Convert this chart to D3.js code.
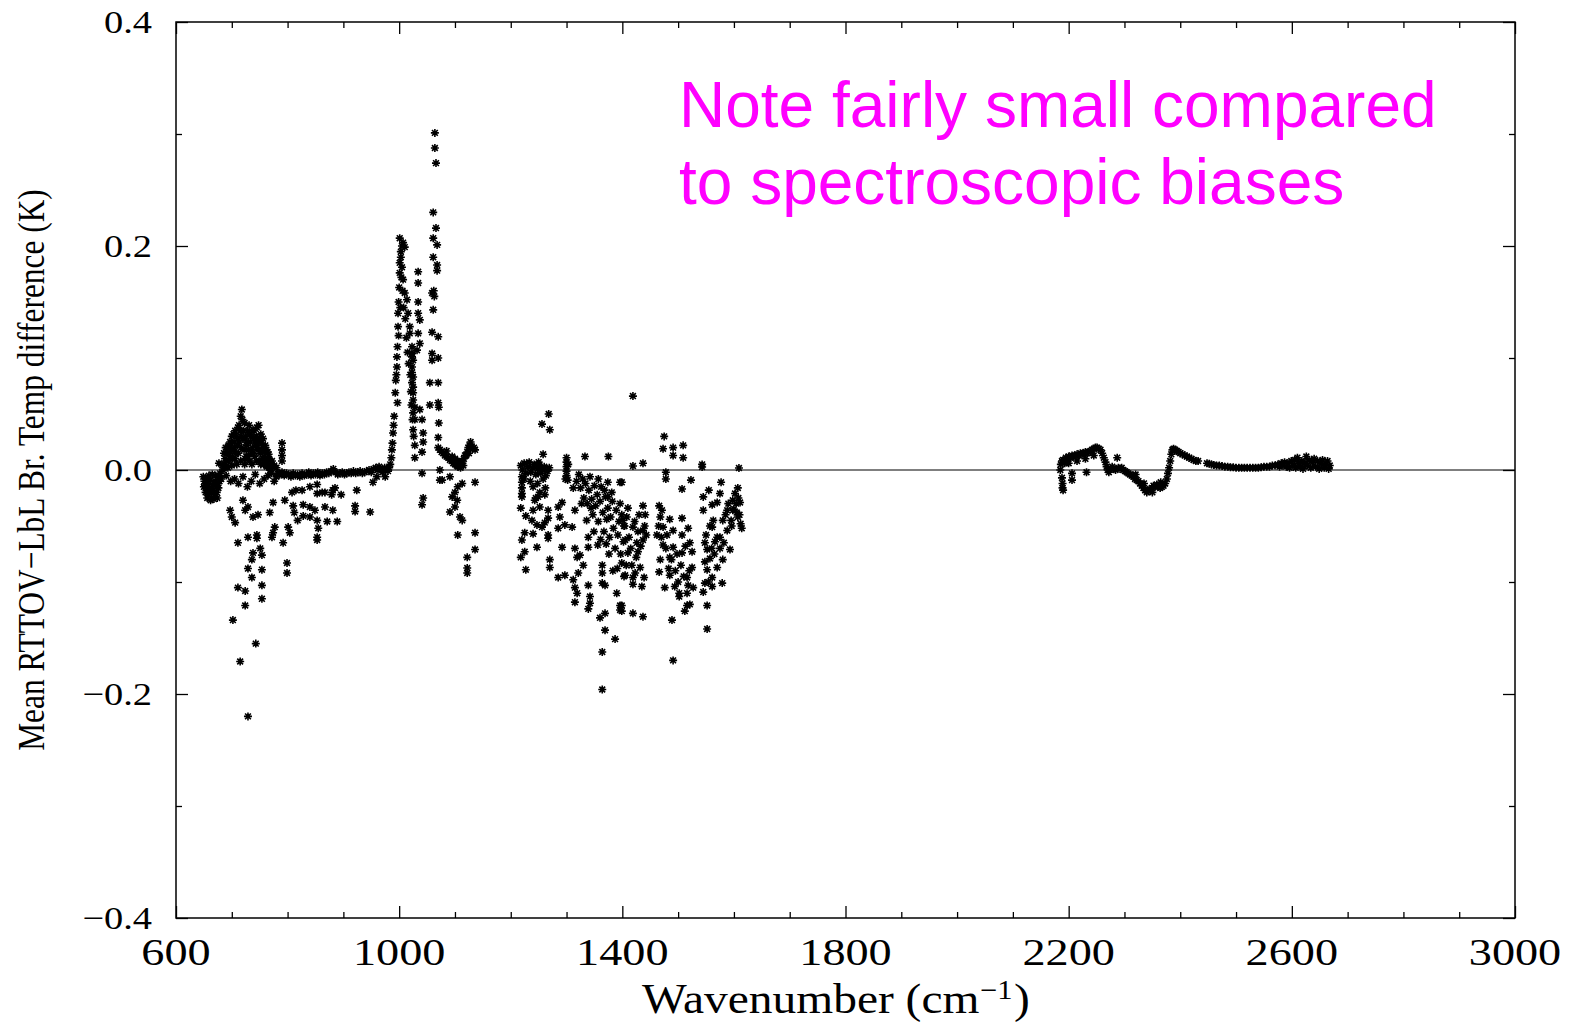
<!DOCTYPE html>
<html><head><meta charset="utf-8">
<script src="https://cdn.jsdelivr.net/npm/d3@7"></script>
<style>html,body{margin:0;padding:0;background:#fff;}svg{display:block}</style>
</head><body>
<svg id="chart" width="1571" height="1023"></svg>
<script>
// ---------- data ----------
const xTicks = [600, 1000, 1400, 1800, 2200, 2600, 3000];
const xTickLabels = ["600", "1000", "1400", "1800", "2200", "2600", "3000"];
const yTicks = [-0.4, -0.2, 0.0, 0.2, 0.4];
const yTickLabels = ["\u22120.4", "\u22120.2", "0.0", "0.2", "0.4"];
const xLabel = "Wavenumber (cm";
const yLabel = "Mean RTTOV\u2212LbL Br. Temp difference (K)";
const noteLines = ["Note fairly small compared", "to spectroscopic biases"];

// [wavenumber (cm-1), mean RTTOV-LbL difference (K)]
const co2Band = [
[649,-0.006],[651,-0.010],[652,-0.014],[654,-0.008],[655,-0.018],[657,-0.012],[658,-0.022],[660,-0.016],[661,-0.009],[663,-0.020],[664,-0.025],[666,-0.013],[667,-0.018],[669,-0.022],[670,-0.010],[672,-0.015],[673,-0.020],[675,-0.012],[677,-0.006],[679,-0.003],[677,0.006],
[650,-0.015],[653,-0.020],[656,-0.025],[659,-0.005],[662,-0.027],[665,-0.004],[668,-0.026],[671,-0.005],[674,-0.025],[676,-0.016],[678,-0.010],[681,-0.008],[683,0.004],
[684,0.000],[686,0.005],[688,0.010],[690,0.003],[692,0.015],[694,0.008],[696,0.020],[698,0.012],[700,0.004],[702,0.018],[704,0.025],[706,0.010],[708,0.030],[710,0.022],[712,0.015],[713,0.040],[715,0.035],[716,0.048],[718,0.054],[719,0.045],[720,0.028],[722,0.018],[724,0.010],[725,0.030],[727,0.022],[729,0.012],[731,0.040],[733,0.025],[735,0.015],[737,0.020],[739,0.028],[741,0.012],[743,0.022],[745,0.038],[747,0.018],[749,0.008],[751,0.015],[753,0.024],[755,0.010],[757,0.005],[759,0.016],[761,0.008],[763,0.003],[765,0.010],[768,0.002],[770,0.005],
[689,0.020],[691,0.008],[693,0.002],[695,0.015],[697,0.025],[699,0.018],[701,0.010],[703,0.032],[705,0.020],[707,0.015],[709,0.005],[711,0.038],[714,0.025],[716,0.008],[717,0.030],[721,0.035],[723,0.005],[726,0.025],[728,0.035],[730,0.018],[732,0.008],[734,0.030],[736,0.005],[738,0.015],[740,0.035],[742,0.025],[744,0.008],[746,0.020],[748,0.040],[750,0.028],[752,0.005],[754,0.018],[756,0.028],[758,0.012],[760,0.022],[762,0.004],[764,0.016],[767,0.010],[769,0.000],[771,-0.003],[773,0.003],
[686,0.015],[694,0.022],[700,0.030],[706,0.035],[711,0.028],[717,0.020],[723,0.042],[726,0.012],[732,0.032],[738,0.036],[744,0.030],[748,0.026],[752,0.032],[756,0.020],[762,0.018],[766,0.014],[772,0.008],[776,0.004],[780,0.002],[780,-0.006],[785,-0.004],[776,-0.010],
[690,-0.005],[698,-0.010],[705,-0.008],[712,-0.012],[720,-0.006],[728,-0.015],[735,-0.010],[742,-0.004],[750,-0.012],[758,-0.008],[765,-0.005],
[790,0.024],[790,0.018],[790,0.013],[790,0.008],
[702,-0.134],[715,-0.171],[729,-0.220],[743,-0.155],[724,-0.121],[711,-0.105],[724,-0.108],[754,-0.115],[754,-0.103],[736,-0.096],[729,-0.088],[754,-0.089],[736,-0.080],[754,-0.076],[738,-0.074],[751,-0.070],[711,-0.065],[729,-0.060],[745,-0.058],[745,-0.061],[706,-0.047],[697,-0.036],[700,-0.042],[799,-0.083],[799,-0.092],[792,-0.065],[804,-0.056],[801,-0.051],[777,-0.051],[774,-0.056],[772,-0.060],[768,-0.038],[774,-0.029],[795,-0.027],[738,-0.042],[747,-0.040],[720,-0.027],[729,-0.033],[724,-0.036]
];

const windowBand = [
[782,-0.003],[786,-0.004],[790,-0.002],[794,-0.005],[798,-0.003],[802,-0.004],[806,-0.006],[810,-0.003],[814,-0.005],[818,-0.004],[822,-0.006],[826,-0.003],[830,-0.005],[834,-0.004],[838,-0.002],[842,-0.005],[846,-0.003],[850,-0.004],[854,-0.002],[858,-0.005],[862,-0.003],[866,-0.004],[870,-0.002],[874,-0.003],[878,-0.001],[882,0.001],[886,-0.002],[890,-0.004],[894,-0.003],[898,-0.002],[902,-0.004],[906,-0.003],[910,-0.002],[914,-0.003],[918,-0.001],[922,-0.003],[926,-0.002],[930,-0.001],[934,-0.003],[938,-0.002],[942,-0.001],[946,0.000],[950,-0.002],[954,0.001],[958,0.002],[962,0.000],[966,0.001],[970,-0.002],[974,0.002],[978,0.001],[960,-0.006],[964,0.003],
[826,-0.018],[853,-0.013],[853,-0.021],[881,-0.018],[867,-0.020],[879,-0.022],[828,-0.031],[840,-0.033],[849,-0.036],[867,-0.033],[881,-0.036],[828,-0.041],[840,-0.042],[853,-0.045],[855,-0.052],[853,-0.060],[853,-0.0625],[871,-0.046],[889,-0.046],[924,-0.018],[921,-0.032],[921,-0.037],[948,-0.0375],[953,-0.011],[975,-0.006],[840,-0.015],[862,-0.020],[885,-0.016],[896,-0.022],[808,-0.020],[815,-0.018],[810,-0.032],[818,-0.045],[812,-0.038]
];

const ozoneBand = [
[980,-0.001],[982,0.002],[984,0.005],[986,0.011],[987,0.018],[988,0.024],[989,0.033],[990,0.040],[991,0.048],[993,0.069],[994,0.080],[996,0.092],[996,0.101],[997,0.110],[998,0.128],[998,0.140],[999,0.150],[1000,0.163],[1001,0.176],[1001,0.185],[1003,0.190],[1001,0.207],[1007,0.203],[1010,0.199],[1005,0.181],[1007,0.170],[1010,0.158],[1014,0.152],[1016,0.140],[1019,0.128],[1019,0.122],[1023,0.110],[1023,0.101],[1023,0.092],[1025,0.083],[1025,0.074],[1025,0.0625],[1025,0.051],[1028,0.045],[1025,0.036],[1028,0.022],[1028,0.011],[1003,0.195],[1005,0.200],[1004,0.172],[1006,0.160],[1008,0.145],[1011,0.135],[1013,0.118],[1015,0.105],[1017,0.095],[1020,0.085],[1021,0.070],[1022,0.058],[1024,0.045],[1026,0.030],[995,0.085],[997,0.060],[999,0.120],[1002,0.145],
[1034,0.177],[1034,0.167],[1034,0.150],[1034,0.140],[1037,0.134],[1034,0.122],[1037,0.113],[1032,0.107],[1023,0.104],[1025,0.098],[1023,0.087],[1023,0.078],[1025,0.069],[1037,0.054],[1041,0.045],[1043,0.033],[1043,0.025],[1041,0.016],[1041,-0.003],[1043,-0.025],[1041,-0.031],[1028,0.056],
[1064,0.301],[1064,0.2875],[1066,0.274],[1061,0.230],[1066,0.216],[1061,0.207],[1068,0.201],[1061,0.190],[1068,0.183],[1068,0.178],[1059,0.158],[1062,0.160],[1063,0.155],[1061,0.143],[1059,0.123],[1070,0.119],[1059,0.104],[1059,0.098],[1070,0.100],[1055,0.078],[1070,0.078],[1055,0.058],[1070,0.060],[1071,0.056],[1071,0.042],[1070,0.029],[1073,0.000],[1073,-0.009],
[1070,0.020],[1073,0.018],[1076,0.016],[1079,0.015],[1082,0.013],[1085,0.012],[1088,0.011],[1091,0.009],[1094,0.008],[1097,0.006],[1100,0.005],[1103,0.004],[1105,0.003],[1107,0.005],[1110,0.007],[1113,0.008],[1116,0.010],[1118,0.013],[1120,0.013],[1122,0.016],[1124,0.020],[1126,0.022],[1128,0.025],[1130,0.021],[1132,0.019],[1134,0.020],[1136,0.018],[1085,0.017],[1095,0.012],[1105,0.008],[1110,0.002],[1115,0.004],[1125,0.015],[1100,0.010],
[1077,-0.009],[1091,-0.006],[1095,-0.024],[1100,-0.020],[1105,-0.015],[1104,-0.027],[1091,-0.0375],[1100,-0.033],[1109,-0.042],[1113,-0.045],[1105,-0.058],[1122,-0.078],[1122,-0.0875],[1122,-0.092],[1136,-0.056],[1136,-0.071],[1136,-0.011],[1113,-0.012]
];

const waterBand = [
[1268,0.050],[1256,0.041],[1270,0.036],[1258,0.014],[1333,0.012],[1250,0.007],[1419,0.066],[1375,0.012],
[1218,0.004],[1221,0.000],[1224,0.006],[1227,-0.003],[1230,0.003],[1233,0.007],[1236,-0.002],[1239,0.002],[1242,0.005],[1245,-0.004],[1248,0.001],[1251,0.004],[1254,-0.003],[1257,0.000],[1260,0.003],[1263,-0.005],[1266,-0.001],[1269,0.002],[1224,-0.008],[1235,-0.010],[1248,-0.012],[1258,-0.008],[1240,-0.015],[1262,-0.016],[1252,-0.020],[1245,-0.025],
[1220,-0.006],[1220,-0.011],[1220,-0.016],[1220,-0.021],[1220,-0.024],
[1300,0.011],[1300,0.007],[1300,0.003],[1300,-0.001],[1300,-0.005],[1302,-0.009],[1298,-0.008],[1303,0.005],
[1218,-0.034],[1227,-0.041],[1240,-0.036],[1238,-0.045],[1247,-0.049],[1243,-0.027],[1249,-0.024],[1261,-0.022],[1252,-0.033],[1267,-0.036],[1267,-0.043],[1261,-0.047],[1256,-0.051],[1220,-0.0625],[1225,-0.056],[1240,-0.057],[1218,-0.078],[1225,-0.073],[1247,-0.069],[1267,-0.058],[1267,-0.061],[1227,-0.089],[1270,-0.080],[1270,-0.087],[1285,-0.033],[1288,-0.042],[1285,-0.052],[1292,-0.069],[1285,-0.096],[1297,-0.094],[1292,-0.029],[1297,-0.049],[1310,-0.051],[1315,-0.036],[1312,-0.016],[1315,-0.070],[1319,-0.078],[1312,-0.098],[1315,-0.105],[1319,-0.110],[1315,-0.118],[1324,-0.076],[1330,-0.085],[1321,-0.092],[1339,-0.060],[1339,-0.103],[1342,-0.113],[1342,-0.119],[1339,-0.124],[1364,-0.092],[1364,-0.101],[1369,-0.103],[1360,-0.132],[1369,-0.128],[1369,-0.143],[1387,-0.151],[1364,-0.1625],[1364,-0.196],[1390,-0.110],[1396,-0.121],[1396,-0.125],[1374,-0.011],[1396,-0.011],[1374,-0.024],[1339,-0.069],[1356,-0.067],[1364,-0.085],
[1318,-0.010],[1322,-0.004],[1325,-0.016],[1329,-0.008],[1331,-0.025],[1334,-0.012],[1337,-0.030],[1340,-0.018],[1342,-0.006],[1345,-0.026],[1347,-0.040],[1350,-0.014],[1352,-0.032],[1355,-0.022],[1357,-0.046],[1360,-0.028],[1362,-0.015],[1365,-0.038],[1367,-0.055],[1370,-0.024],[1372,-0.044],[1374,-0.034],[1377,-0.060],[1379,-0.042],[1382,-0.028],[1384,-0.052],[1387,-0.070],[1389,-0.036],[1392,-0.058],[1394,-0.046],[1397,-0.075],[1399,-0.040],[1402,-0.064],[1404,-0.050],[1336,-0.045],[1349,-0.055],[1361,-0.062],[1376,-0.075],[1391,-0.088],[1403,-0.095],[1383,-0.090],[1396,-0.030],[1327,-0.030],[1357,-0.008],[1368,-0.018],[1381,-0.020],[1344,-0.034],[1371,-0.066],
[1475,0.030],[1473,0.019],[1491,0.020],[1509,0.022],[1491,0.013],[1509,0.011],[1419,0.0036],[1437,0.006],[1543,0.005],[1543,0.0027],[1609,0.0018],[1478,-0.002],[1478,-0.008],[1523,-0.009],[1507,-0.017],[1577,-0.011],[1399,-0.011],
[1410,-0.034],[1437,-0.032],[1441,-0.040],[1401,-0.045],[1419,-0.051],[1437,-0.054],[1405,-0.0625],[1426,-0.065],[1437,-0.0625],[1410,-0.074],[1428,-0.073],[1399,-0.083],[1417,-0.085],[1432,-0.087],[1405,-0.094],[1419,-0.096],[1439,-0.096],[1419,-0.102],[1435,-0.104],[1399,-0.121],[1399,-0.126],[1419,-0.128],[1437,-0.131],
[1466,-0.032],[1471,-0.036],[1468,-0.042],[1485,-0.044],[1473,-0.051],[1462,-0.058],[1491,-0.054],[1507,-0.058],[1473,-0.067],[1491,-0.069],[1468,-0.080],[1485,-0.078],[1507,-0.074],[1521,-0.065],[1518,-0.052],[1507,-0.043],[1466,-0.091],[1485,-0.094],[1500,-0.100],[1516,-0.096],[1518,-0.103],[1476,-0.105],[1494,-0.104],[1502,-0.110],[1502,-0.113],[1516,-0.110],[1527,-0.105],[1516,-0.121],[1512,-0.126],[1521,-0.120],[1489,-0.134],[1491,-0.170],[1525,-0.087],[1525,-0.073],
[1545,-0.036],[1545,-0.024],[1555,-0.018],[1570,-0.029],[1561,-0.031],[1575,-0.021],[1563,-0.045],[1561,-0.051],[1580,-0.045],[1588,-0.036],[1598,-0.027],[1607,-0.016],[1602,-0.021],[1611,-0.029],[1598,-0.036],[1607,-0.042],[1614,-0.052],[1588,-0.054],[1575,-0.060],[1566,-0.064],[1548,-0.065],[1552,-0.071],[1557,-0.079],[1548,-0.082],[1552,-0.089],[1570,-0.087],[1561,-0.096],[1548,-0.101],[1554,-0.100],[1579,-0.101],[1545,-0.109],[1561,-0.104],[1552,-0.121],[1552,-0.142],[1593,-0.071],[1580,-0.080],
[1403,-0.050],[1408,-0.042],[1412,-0.060],[1415,-0.070],[1422,-0.046],[1425,-0.078],[1428,-0.055],[1430,-0.040],[1433,-0.068],[1440,-0.050],[1443,-0.058],[1407,-0.085],[1423,-0.092],
[1465,-0.050],[1470,-0.060],[1478,-0.070],[1480,-0.058],[1483,-0.088],[1488,-0.080],[1495,-0.090],[1498,-0.075],[1505,-0.085],[1510,-0.095],[1513,-0.068],[1520,-0.090],
[1585,-0.040],[1590,-0.030],[1595,-0.045],[1600,-0.035],[1604,-0.030],[1608,-0.025],[1610,-0.040],[1612,-0.048],[1596,-0.050],[1605,-0.038],[1560,-0.070],[1565,-0.075],[1570,-0.060],[1575,-0.070],[1582,-0.065],[1550,-0.058],[1557,-0.050]
];

const swBand = [
[2185,0.000],[2186,0.005],[2188,0.008],[2190,0.009],[2193,0.006],[2195,0.011],[2198,0.010],[2200,0.012],[2203,0.011],[2206,0.013],[2209,0.012],[2212,0.013],[2215,0.014],[2218,0.013],[2221,0.015],[2224,0.014],[2227,0.015],[2230,0.016],[2233,0.015],[2236,0.016],[2239,0.017],[2242,0.018],[2245,0.019],[2248,0.020],[2251,0.020],[2254,0.019],[2257,0.018],[2260,0.015],[2263,0.011],[2266,0.007],[2268,0.003],[2270,0.000],[2272,-0.002],[2275,0.001],[2278,0.003],[2281,0.001],[2284,0.000],[2287,0.011],[2289,0.002],[2292,0.001],[2295,0.002],[2298,0.000],[2301,-0.001],[2304,-0.002],[2307,-0.003],[2310,-0.004],[2313,-0.005],[2316,-0.006],[2319,-0.008],[2322,-0.009],[2325,-0.010],[2328,-0.012],[2331,-0.014],[2334,-0.016],[2337,-0.018],[2340,-0.020],[2343,-0.019],[2346,-0.017],[2349,-0.016],[2352,-0.014],[2355,-0.015],[2358,-0.013],[2361,-0.015],[2364,-0.016],[2367,-0.015],[2370,-0.014],[2373,-0.012],[2376,-0.008],[2378,-0.003],[2380,0.002],[2382,0.008],[2384,0.014],[2386,0.018],[2388,0.019],[2391,0.018],[2394,0.017],[2397,0.016],[2400,0.015],[2404,0.014],[2408,0.013],[2412,0.012],[2416,0.011],[2420,0.010],[2424,0.009],[2428,0.008],[2432,0.008],
[2448,0.006],[2452,0.0055],[2456,0.005],[2460,0.0045],[2465,0.004],[2470,0.004],[2475,0.0035],[2480,0.003],[2485,0.003],[2490,0.0025],[2495,0.0025],[2500,0.002],[2505,0.002],[2510,0.002],[2515,0.002],[2520,0.002],[2525,0.002],[2530,0.002],[2535,0.002],[2540,0.002],[2545,0.0025],[2550,0.003],[2555,0.003],[2560,0.003],[2565,0.004],[2570,0.004],[2575,0.005],[2578,0.003],[2581,0.006],[2584,0.004],[2587,0.007],[2590,0.003],[2593,0.006],[2596,0.002],[2599,0.008],[2602,0.004],[2605,0.009],[2607,0.002],[2610,0.011],[2612,0.006],[2615,0.003],[2618,0.008],[2620,0.001],[2623,0.006],[2626,0.012],[2628,0.004],[2631,0.009],[2634,0.002],[2637,0.007],[2640,0.010],[2643,0.003],[2646,0.008],[2649,0.001],[2652,0.006],[2655,0.009],[2658,0.002],[2661,0.005],[2664,0.008],[2666,0.001],[2668,0.004],
[2188,-0.007],[2189,-0.012],[2189,-0.016],[2190,-0.018],[2206,-0.009],[2206,-0.003],[2232,-0.002],[2200,0.006],[2215,0.008],[2230,0.010],[2245,0.013],[2320,-0.004],[2335,-0.012],[2350,-0.020],[2365,-0.011]
];

// ---------- drawing ----------
const svg = d3.select("#chart");
svg.append("rect").attr("width",1571).attr("height",1023).attr("fill","#fff");

const x = d3.scaleLinear().domain([600, 3000]).range([176, 1515]);
const y = d3.scaleLinear().domain([-0.4, 0.4]).range([918, 22]);

const xMinor = d3.range(700, 3000, 100).filter(v => !xTicks.includes(v));
const yMinor = [-0.3, -0.1, 0.1, 0.3];

function styleAxis(g) {
  g.select(".domain").remove();
  g.selectAll(".tick line").attr("stroke", "#000").attr("stroke-width", 1.3);
  g.selectAll(".tick text").remove();
}
svg.append("g").attr("transform","translate(0,918)").call(d3.axisBottom(x).tickValues(xTicks).tickSize(-12)).call(styleAxis);
svg.append("g").attr("transform","translate(0,918)").call(d3.axisBottom(x).tickValues(xMinor).tickSize(-6)).call(styleAxis);
svg.append("g").attr("transform","translate(0,22)").call(d3.axisTop(x).tickValues(xTicks).tickSize(-12)).call(styleAxis);
svg.append("g").attr("transform","translate(0,22)").call(d3.axisTop(x).tickValues(xMinor).tickSize(-6)).call(styleAxis);
svg.append("g").attr("transform","translate(176,0)").call(d3.axisLeft(y).tickValues(yTicks).tickSize(-12)).call(styleAxis);
svg.append("g").attr("transform","translate(176,0)").call(d3.axisLeft(y).tickValues(yMinor).tickSize(-6)).call(styleAxis);
svg.append("g").attr("transform","translate(1515,0)").call(d3.axisRight(y).tickValues(yTicks).tickSize(-12)).call(styleAxis);
svg.append("g").attr("transform","translate(1515,0)").call(d3.axisRight(y).tickValues(yMinor).tickSize(-6)).call(styleAxis);

// frame
svg.append("rect").attr("x", x(600)).attr("y", y(0.4))
  .attr("width", x(3000) - x(600)).attr("height", y(-0.4) - y(0.4))
  .attr("fill", "none").attr("stroke", "#000").attr("stroke-width", 1.5);

// zero line
svg.append("line").attr("x1", x(600)).attr("x2", x(3000)).attr("y1", y(0)).attr("y2", y(0))
  .attr("stroke", "#000").attr("stroke-width", 1.2);

// points
const star = "M-4,0H4M0,-4V4M-2.9,-2.9L2.9,2.9M-2.9,2.9L2.9,-2.9";
const allPts = [].concat(co2Band, windowBand, ozoneBand, waterBand, swBand);
svg.append("g").selectAll("path").data(allPts).join("path")
  .attr("d", star)
  .attr("transform", d => `translate(${x(d[0])},${y(d[1])})`)
  .attr("stroke", "#000").attr("stroke-width", 1.6).attr("fill", "none");

// tick labels
const serif = "'Liberation Serif','Times New Roman',serif";
svg.append("g").selectAll("g").data(xTicks).join("g")
  .attr("transform", d => `translate(${x(d)},965) scale(1.25,1)`)
  .append("text").attr("text-anchor","middle").attr("font-family",serif).attr("font-size",37)
  .text((d,i) => xTickLabels[i]);
svg.append("g").selectAll("g").data(yTicks).join("g")
  .attr("transform", d => `translate(152,${y(d)+11}) scale(1.2,1)`)
  .append("text").attr("text-anchor","end").attr("font-family",serif).attr("font-size",32)
  .text((d,i) => yTickLabels[i]);

// axis titles
svg.append("text").attr("transform","translate(642,1013) scale(1.13,1)")
  .attr("font-family",serif).attr("font-size",42).text(xLabel);
svg.append("text").attr("transform","translate(980,999) scale(1.13,1)")
  .attr("font-family",serif).attr("font-size",27).text("\u22121");
svg.append("text").attr("transform","translate(1014,1013) scale(1.13,1)")
  .attr("font-family",serif).attr("font-size",42).text(")");
svg.append("text").attr("transform","translate(44,470) scale(1.2,1) rotate(-90)")
  .attr("text-anchor","middle").attr("font-family",serif).attr("font-size",31.4).text(yLabel);

// annotation
svg.append("g").selectAll("text").data(noteLines).join("text")
  .attr("x", 679).attr("y", (d,i) => 127 + i*77)
  .attr("font-family","'Liberation Sans',Arial,sans-serif").attr("font-size",64)
  .attr("fill","#ff00ff").text(d => d);
</script>
</body></html>
